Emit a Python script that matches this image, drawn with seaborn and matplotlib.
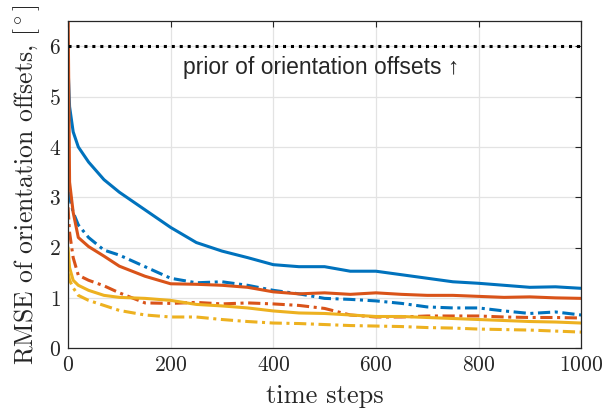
import numpy as np
import pandas as pd
import seaborn as sns
import matplotlib.pyplot as plt

# time grid (shared by all curves)
steps = [0, 3, 10, 20, 40, 70, 100, 150, 200, 250, 300, 350, 400, 450, 500,
         550, 600, 650, 700, 750, 800, 850, 900, 950, 1000]

# RMSE of orientation offsets [deg]
blue_solid = [5.6, 4.8, 4.3, 4.0, 3.7, 3.35, 3.1, 2.75, 2.4, 2.1, 1.93, 1.8, 1.66,
              1.62, 1.62, 1.53, 1.53, 1.46, 1.39, 1.32, 1.29, 1.25, 1.21, 1.22, 1.19]
blue_dash = [3.6, 3.0, 2.7, 2.45, 2.2, 1.95, 1.85, 1.62, 1.39, 1.30, 1.32, 1.25, 1.15,
             1.08, 0.99, 0.97, 0.94, 0.89, 0.82, 0.80, 0.80, 0.74, 0.69, 0.72, 0.66]
orange_solid = [6.8, 3.3, 2.7, 2.2, 2.02, 1.83, 1.63, 1.43, 1.28, 1.27, 1.25, 1.21, 1.12,
                1.08, 1.10, 1.07, 1.10, 1.07, 1.05, 1.05, 1.03, 1.01, 1.02, 1.00, 0.99]
orange_dash = [2.8, 2.3, 1.8, 1.45, 1.35, 1.24, 1.10, 0.90, 0.89, 0.91, 0.88, 0.90, 0.88,
               0.85, 0.79, 0.66, 0.62, 0.62, 0.64, 0.64, 0.64, 0.62, 0.61, 0.61, 0.60]
yellow_solid = [2.0, 1.6, 1.35, 1.25, 1.15, 1.05, 1.01, 0.99, 0.95, 0.87, 0.84, 0.80, 0.74,
                0.70, 0.69, 0.66, 0.63, 0.63, 0.61, 0.59, 0.57, 0.55, 0.53, 0.52, 0.50]
yellow_dash = [1.5, 1.35, 1.2, 1.05, 0.95, 0.85, 0.75, 0.66, 0.62, 0.62, 0.57, 0.53, 0.50,
               0.49, 0.47, 0.45, 0.44, 0.43, 0.41, 0.40, 0.38, 0.37, 0.36, 0.34, 0.32]

prior_offset = 6.0

sns.set_theme(style="whitegrid")
plt.rcParams["font.family"] = "serif"
plt.rcParams["font.serif"] = ["cmr10"]
plt.rcParams["mathtext.fontset"] = "cm"
plt.rcParams["axes.formatter.use_mathtext"] = True

blue, orange, yellow = "#0072BD", "#D95319", "#EDB120"
dashdot = (4, 1.5, 1, 1.5)

curves = [
    (blue_solid, blue, "-"),
    (blue_dash, blue, dashdot),
    (orange_solid, orange, "-"),
    (orange_dash, orange, dashdot),
    (yellow_solid, yellow, "-"),
    (yellow_dash, yellow, dashdot),
]

fig = plt.figure(figsize=(6.13, 4.15), dpi=100)
ax = fig.add_axes([0.111, 0.161, 0.837, 0.788])

for vals, col, ls in curves:
    df = pd.DataFrame({"t": steps, "rmse": vals})
    sns.lineplot(data=df, x="t", y="rmse", ax=ax, color=col, linewidth=2.2)
    l = ax.lines[-1]
    if ls == "-":
        l.set_linestyle("-")
    else:
        l.set_dashes(ls)

ax.axhline(prior_offset, color="black", linewidth=2.2, linestyle=(0, (1, 1.6)))
ax.text(225, 5.57, "prior of orientation offsets \u2191", fontsize=16.5,
        family=["Liberation Sans", "DejaVu Sans"], va="center", ha="left")

ax.set_xlim(0, 1000)
ax.set_ylim(0, 6.5)
ax.set_xticks([0, 200, 400, 600, 800, 1000])
ax.set_yticks([0, 1, 2, 3, 4, 5, 6])
ax.set_xlabel("time steps", fontsize=19, labelpad=7)
ax.set_ylabel(r"RMSE of orientation offsets, [$^\circ$]", fontsize=18.5, labelpad=5)

ax.grid(True, color="#e3e3e3", linewidth=0.9)
for s in ax.spines.values():
    s.set_visible(True)
    s.set_color("#262626")
    s.set_linewidth(0.9)
ax.tick_params(direction="in", length=4, width=0.8, color="#262626",
               top=True, right=True, labelsize=15.5, pad=5)

fig.savefig("out.png", dpi=100)
